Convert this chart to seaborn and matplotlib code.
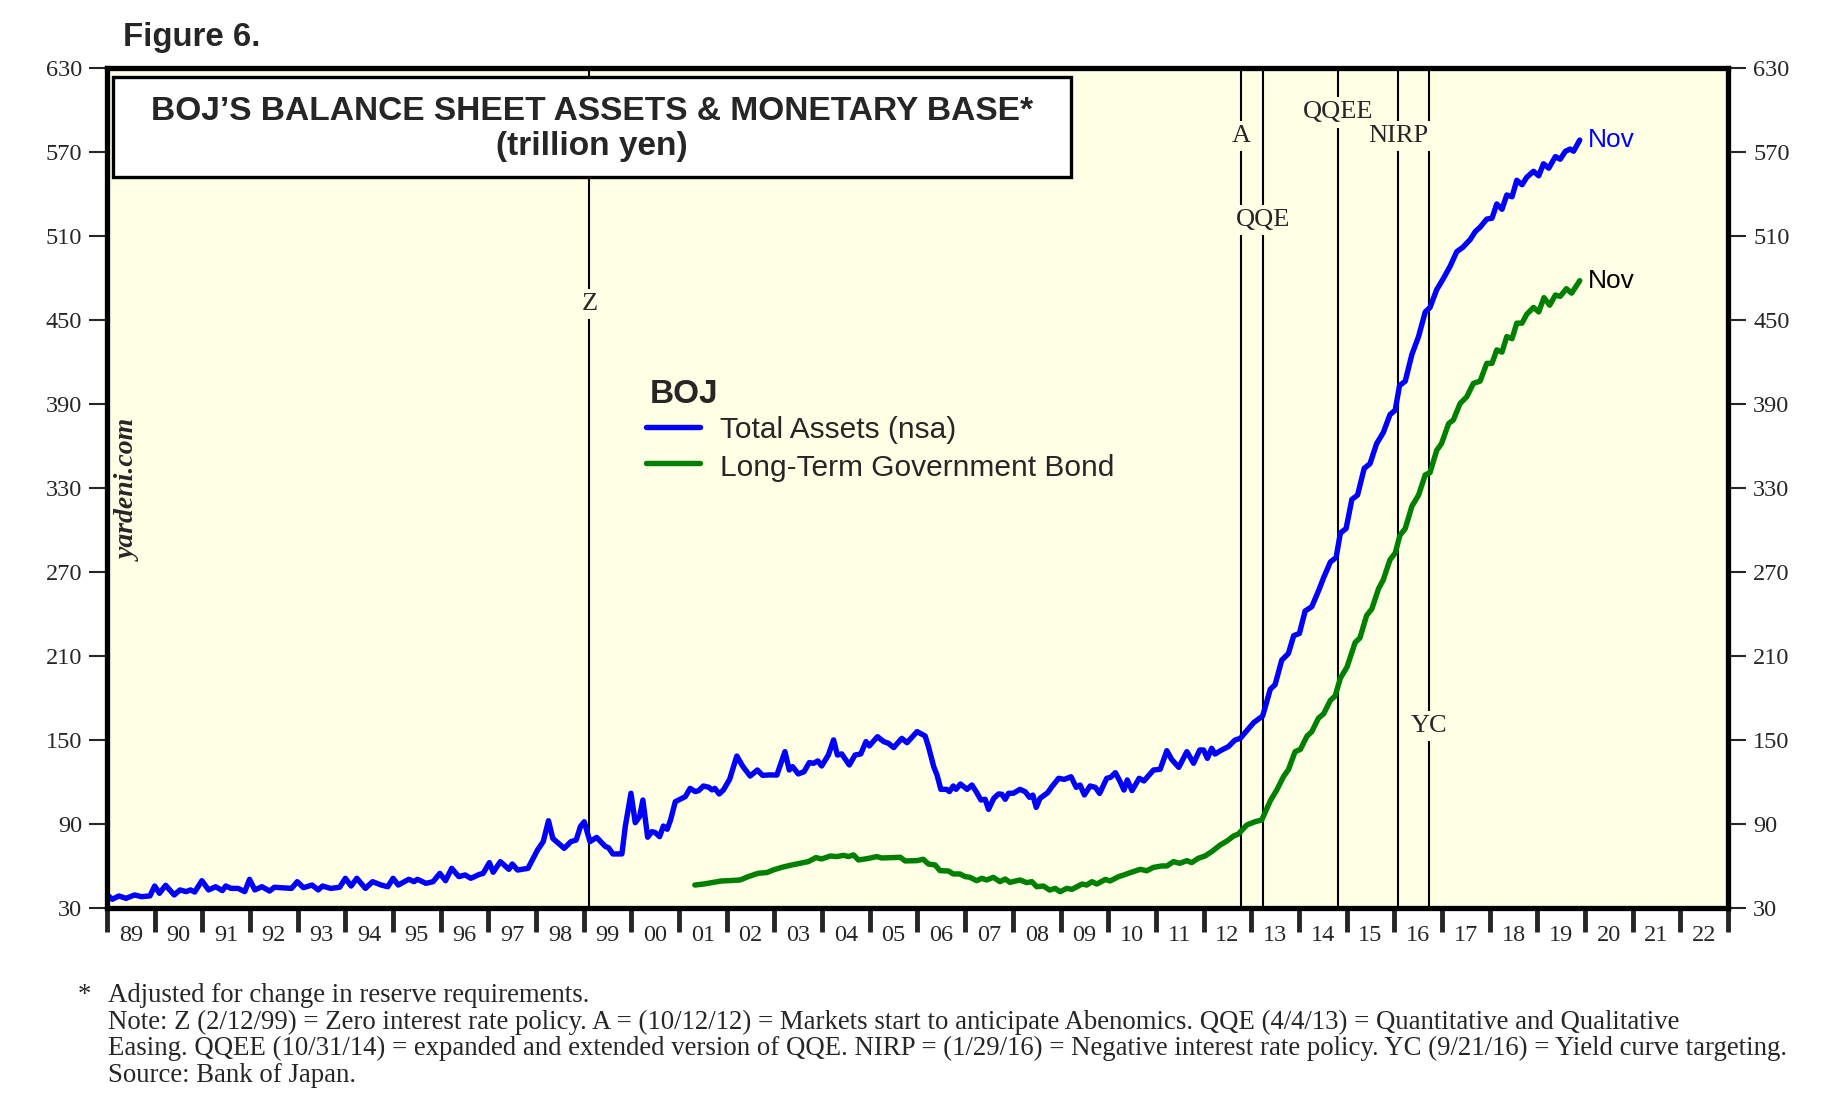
import matplotlib
matplotlib.use("Agg")
import matplotlib.pyplot as plt
import seaborn as sns
import pandas as pd
from matplotlib.patches import Rectangle
from matplotlib.lines import Line2D

# ---------------- data ----------------
ta_year = [1989.01, 1989.11, 1989.25, 1989.40, 1989.58, 1989.72, 1989.90, 1990.00, 1990.10, 1990.23,
           1990.41, 1990.53, 1990.66, 1990.75, 1990.84, 1990.99, 1991.13, 1991.28, 1991.42, 1991.49,
           1991.60, 1991.75, 1991.89, 1991.99, 1992.10, 1992.25, 1992.41, 1992.51, 1992.87, 1992.99,
           1993.12, 1993.30, 1993.43, 1993.52, 1993.69, 1993.88, 1994.00, 1994.12, 1994.24, 1994.42,
           1994.57, 1994.75, 1994.89, 1995.00, 1995.11, 1995.33, 1995.44, 1995.51, 1995.69, 1995.84,
           1995.98, 1996.10, 1996.23, 1996.38, 1996.51, 1996.63, 1996.81, 1996.89, 1997.02, 1997.10,
           1997.25, 1997.43, 1997.50, 1997.61, 1997.83, 1998.03, 1998.15, 1998.26, 1998.35, 1998.59,
           1998.73, 1998.84, 1998.93, 1999.01, 1999.13, 1999.27, 1999.45, 1999.52, 1999.61, 1999.80,
           1999.87, 1999.99, 2000.08, 2000.17, 2000.24, 2000.34, 2000.43, 2000.50, 2000.59, 2000.67,
           2000.75, 2000.82, 2000.92, 2001.06, 2001.13, 2001.23, 2001.34, 2001.41, 2001.51, 2001.62,
           2001.69, 2001.75, 2001.84, 2001.93, 2002.06, 2002.21, 2002.34, 2002.49, 2002.64, 2002.75,
           2002.90, 2003.05, 2003.22, 2003.31, 2003.38, 2003.50, 2003.62, 2003.73, 2003.82, 2003.91,
           2003.99, 2004.13, 2004.24, 2004.32, 2004.41, 2004.57, 2004.69, 2004.81, 2004.92, 2004.99,
           2005.16, 2005.29, 2005.39, 2005.50, 2005.67, 2005.78, 2005.99, 2006.16, 2006.23, 2006.34,
           2006.41, 2006.49, 2006.61, 2006.67, 2006.75, 2006.81, 2006.90, 2007.04, 2007.14, 2007.23,
           2007.33, 2007.42, 2007.49, 2007.60, 2007.70, 2007.77, 2007.84, 2007.91, 2008.01, 2008.15,
           2008.26, 2008.35, 2008.42, 2008.49, 2008.57, 2008.73, 2008.82, 2008.96, 2009.08, 2009.22,
           2009.33, 2009.41, 2009.50, 2009.62, 2009.73, 2009.82, 2009.97, 2010.05, 2010.15, 2010.25,
           2010.33, 2010.40, 2010.50, 2010.65, 2010.75, 2010.95, 2011.09, 2011.23, 2011.33, 2011.48,
           2011.65, 2011.79, 2011.92, 2012.00, 2012.08, 2012.17, 2012.24, 2012.38, 2012.52, 2012.66,
           2012.77, 2013.05, 2013.24, 2013.40, 2013.50, 2013.64, 2013.78, 2013.89, 2014.01, 2014.13,
           2014.27, 2014.41, 2014.52, 2014.66, 2014.78, 2014.87, 2014.99, 2015.11, 2015.23, 2015.37,
           2015.49, 2015.63, 2015.77, 2015.91, 2016.02, 2016.11, 2016.23, 2016.37, 2016.51, 2016.65,
           2016.75, 2016.89, 2017.03, 2017.17, 2017.31, 2017.44, 2017.59, 2017.70, 2017.80, 2017.94,
           2018.05, 2018.15, 2018.26, 2018.36, 2018.47, 2018.57, 2018.68, 2018.78, 2018.92, 2019.03,
           2019.13, 2019.24, 2019.38, 2019.48, 2019.59, 2019.69, 2019.76, 2019.89]
ta_val = [39.3, 36.2, 38.6, 36.9, 39.3, 38.1, 38.6, 45.7, 40.5, 46.2,
          39.3, 42.9, 41.7, 42.9, 41.4, 49.5, 42.9, 45.2, 42.4, 45.7,
          44.0, 44.0, 41.7, 50.5, 42.9, 45.2, 42.1, 44.8, 44.0, 48.8,
          44.5, 46.4, 42.9, 45.7, 44.0, 44.8, 51.2, 45.7, 51.2, 44.0,
          48.8, 46.4, 45.2, 51.2, 46.4, 50.5, 48.8, 50.5, 47.6, 48.8,
          54.7, 49.5, 58.3, 52.4, 53.6, 51.2, 54.0, 54.7, 62.4, 55.5,
          63.1, 57.6, 61.4, 57.1, 58.3, 71.4, 77.4, 92.3, 79.7, 72.6,
          77.4, 78.5, 88.1, 91.6, 77.4, 80.4, 74.0, 73.0, 68.6, 68.6,
          88.0, 111.9, 90.9, 95.2, 107.1, 80.5, 84.5, 83.8, 80.9, 88.5,
          86.2, 92.8, 105.9, 108.3, 109.5, 115.4, 113.1, 113.8, 117.1, 116.2,
          114.3, 115.4, 111.4, 114.3, 121.9, 138.5, 130.9, 124.2, 128.5, 124.7,
          125.0, 124.9, 141.6, 128.5, 130.9, 125.7, 127.3, 133.8, 133.3, 135.0,
          131.4, 139.2, 150.0, 139.2, 140.0, 132.1, 139.2, 140.0, 148.8, 145.7,
          152.3, 148.8, 147.6, 144.5, 151.1, 148.0, 155.9, 152.8, 145.2, 130.9,
          124.9, 114.7, 114.7, 113.1, 117.1, 114.7, 118.5, 114.7, 117.8, 113.1,
          107.1, 107.6, 100.4, 108.3, 111.4, 111.2, 107.6, 111.9, 111.9, 114.7,
          113.0, 109.0, 110.6, 101.8, 108.3, 112.3, 116.6, 122.6, 121.8, 123.7,
          116.1, 117.8, 110.7, 117.1, 116.1, 111.8, 122.6, 123.3, 126.6, 120.2,
          114.2, 121.4, 113.8, 122.6, 120.7, 128.5, 129.0, 142.3, 136.1, 130.4,
          141.6, 133.3, 142.8, 142.8, 136.8, 144.0, 139.9, 142.8, 145.2, 149.9,
          151.1, 162.3, 167.1, 186.2, 189.4, 206.9, 211.7, 224.4, 226.0, 242.0,
          245.1, 256.3, 265.9, 277.0, 280.2, 297.7, 300.9, 321.6, 324.8, 343.9,
          347.1, 361.5, 369.4, 382.2, 385.4, 402.9, 406.1, 425.2, 438.0, 455.5,
          458.7, 471.4, 479.4, 488.0, 498.5, 501.7, 507.1, 512.9, 516.0, 521.8,
          522.4, 532.6, 528.8, 539.0, 537.7, 549.5, 546.3, 551.7, 555.9, 552.7,
          561.3, 558.1, 566.4, 564.5, 570.2, 571.8, 570.2, 578.2]

jgb_year = [2001.33, 2001.51, 2001.72, 2001.89, 2002.03, 2002.28, 2002.45, 2002.66, 2002.84, 2002.98,
            2003.15, 2003.36, 2003.54, 2003.71, 2003.87, 2003.99, 2004.17, 2004.31, 2004.45, 2004.55,
            2004.66, 2004.76, 2004.94, 2005.15, 2005.25, 2005.46, 2005.64, 2005.74, 2005.99, 2006.12,
            2006.23, 2006.37, 2006.47, 2006.65, 2006.75, 2006.89, 2007.00, 2007.10, 2007.24, 2007.35,
            2007.45, 2007.59, 2007.73, 2007.84, 2007.94, 2008.15, 2008.29, 2008.40, 2008.50, 2008.64,
            2008.77, 2008.89, 2008.99, 2009.13, 2009.24, 2009.45, 2009.55, 2009.66, 2009.76, 2009.94,
            2010.04, 2010.22, 2010.32, 2010.46, 2010.67, 2010.81, 2010.95, 2011.12, 2011.23, 2011.37,
            2011.50, 2011.65, 2011.75, 2011.89, 2012.03, 2012.17, 2012.35, 2012.49, 2012.63, 2012.73,
            2012.91, 2013.08, 2013.22, 2013.40, 2013.54, 2013.68, 2013.78, 2013.92, 2014.03, 2014.17,
            2014.27, 2014.41, 2014.52, 2014.66, 2014.76, 2014.87, 2015.01, 2015.18, 2015.28, 2015.42,
            2015.53, 2015.67, 2015.77, 2015.91, 2016.02, 2016.12, 2016.23, 2016.37, 2016.51, 2016.65,
            2016.75, 2016.89, 2016.99, 2017.14, 2017.24, 2017.38, 2017.52, 2017.66, 2017.80, 2017.94,
            2018.05, 2018.15, 2018.26, 2018.36, 2018.47, 2018.57, 2018.68, 2018.78, 2018.92, 2019.03,
            2019.14, 2019.26, 2019.38, 2019.48, 2019.61, 2019.72, 2019.89]
jgb_val = [46.4, 47.1, 48.3, 49.3, 49.5, 50.0, 52.4, 54.8, 55.3, 57.2,
           59.0, 60.7, 61.9, 63.1, 66.0, 65.0, 67.1, 66.7, 67.6, 66.7,
           67.9, 64.3, 65.2, 66.7, 65.7, 66.0, 66.2, 63.6, 63.8, 64.8,
           61.4, 60.7, 56.7, 56.4, 54.3, 54.3, 52.4, 51.9, 49.5, 51.2,
           50.0, 51.9, 48.8, 50.7, 48.3, 50.0, 48.1, 48.8, 45.2, 45.7,
           42.8, 44.0, 41.6, 44.0, 43.3, 47.1, 46.4, 48.8, 47.1, 50.4,
           49.3, 52.4, 53.5, 55.2, 57.6, 56.6, 59.0, 60.0, 60.0, 63.1,
           61.9, 63.8, 62.4, 65.5, 67.1, 70.2, 75.0, 77.8, 81.4, 82.8,
           89.3, 91.6, 92.8, 106.5, 114.5, 124.0, 128.8, 141.6, 143.2, 152.7,
           155.9, 165.5, 168.7, 178.2, 181.4, 194.1, 202.1, 219.6, 222.8, 238.8,
           243.5, 257.9, 264.3, 278.6, 283.4, 296.1, 300.9, 316.8, 324.8, 339.2,
           340.8, 356.7, 361.5, 375.8, 378.4, 390.1, 394.9, 404.5, 406.1, 418.8,
           418.8, 428.4, 426.8, 437.9, 436.4, 447.5, 447.5, 453.9, 458.7, 455.5,
           465.7, 460.3, 467.6, 466.6, 472.1, 468.9, 477.8]

event_names = ["Z", "A", "QQE", "QQEE", "NIRP", "YC"]
event_dates = [1999.118, 2012.78, 2013.255, 2014.83, 2016.077, 2016.72]
event_label_y = [461, 581, 521, 598, 581, 160]

year_labels = ["89", "90", "91", "92", "93", "94", "95", "96", "97", "98", "99", "00",
               "01", "02", "03", "04", "05", "06", "07", "08", "09", "10", "11", "12",
               "13", "14", "15", "16", "17", "18", "19", "20", "21", "22"]
y_ticks = [30, 90, 150, 210, 270, 330, 390, 450, 510, 570, 630]

series_names = ["Total Assets (nsa)", "Long-Term Government Bond"]

# ---------------- style ----------------
BG = "#FFFFE5"
BLUE = "#0000FF"
GREEN = "#008000"
SERIF = "Liberation Serif"
SANS = "Liberation Sans"

sns.set_style("white")
plt.rcParams["font.family"] = [SERIF, "DejaVu Serif"]

W, H = 1834, 1097
fig = plt.figure(figsize=(W / 100, H / 100), dpi=100)
fig.patch.set_facecolor("white")


def fx(px):
    return px / W


def fy(py):
    return 1 - py / H


L, R, T, B = 107, 1728, 67.5, 908
ax = fig.add_axes([fx(L), fy(B), (R - L) / W, (B - T) / H])
ax.set_facecolor(BG)

df_ta = pd.DataFrame({"year": ta_year, "value": ta_val})
df_jgb = pd.DataFrame({"year": jgb_year, "value": jgb_val})
sns.lineplot(data=df_ta, x="year", y="value", ax=ax, color=BLUE, linewidth=3.9,
             estimator=None, legend=False, zorder=5)
sns.lineplot(data=df_jgb, x="year", y="value", ax=ax, color=GREEN, linewidth=3.9,
             estimator=None, legend=False, zorder=5)

ax.set_xlim(1989, 2023)
ax.set_ylim(30, 630)
ax.set_xlabel("")
ax.set_ylabel("")

# event lines
for name, d, ly in zip(event_names, event_dates, event_label_y):
    ax.axvline(d, color="black", linewidth=1.5, zorder=2)
    ax.text(d, ly, name, ha="center", va="center", fontsize=19, family=SERIF,
            zorder=3, bbox=dict(facecolor=BG, edgecolor="none", pad=3))

# Nov labels
ax.text(ta_year[-1] + 0.18, ta_val[-1], "Nov", color=BLUE, fontsize=19, family=SANS,
        ha="left", va="center")
ax.text(jgb_year[-1] + 0.18, jgb_val[-1], "Nov", color="black", fontsize=19, family=SANS,
        ha="left", va="center")

# axes / ticks
for s in ax.spines.values():
    s.set_linewidth(3.8)
    s.set_color("black")
    s.set_zorder(6)

ax.set_yticks(y_ticks)
ax.set_yticklabels([str(v) for v in y_ticks])
ax.tick_params(axis="y", which="major", left=True, right=True, labelleft=True, labelright=True,
               direction="out", length=13, width=1.5, pad=5, labelsize=17.5)

major_x = list(range(1989, 2024))
ax.set_xticks(major_x)
ax.set_xticklabels([""] * len(major_x))
ax.set_xticks([y + 0.5 for y in range(1989, 2023)], minor=True)
ax.set_xticklabels(year_labels, minor=True)
ax.tick_params(axis="x", which="major", bottom=True, direction="out", length=17, width=3.5)
ax.tick_params(axis="x", which="minor", bottom=True, length=0, pad=12, labelsize=17.5)
for lab in ax.get_yticklabels() + ax.get_xticklabels(minor=True):
    lab.set_family(SERIF)
ax.grid(False)

# title box
rect = Rectangle((fx(113), fy(177)), (1071 - 113) / W, 100 / H, transform=fig.transFigure,
                 facecolor="white", edgecolor="black", linewidth=2.4, zorder=10)
fig.add_artist(rect)
fig.text(fx(592), fy(120), "BOJ\u2019S BALANCE SHEET ASSETS & MONETARY BASE*", ha="center",
         va="baseline", fontsize=24.1, weight="bold", family=SANS, zorder=11)
fig.text(fx(592), fy(155), "(trillion yen)", ha="center", va="baseline", fontsize=24.1,
         weight="bold", family=SANS, zorder=11)

fig.text(fx(123), fy(46), "Figure 6.", ha="left", va="baseline", fontsize=23.8,
         weight="bold", family=SANS)

# legend
fig.text(fx(650), fy(403), "BOJ", ha="left", va="baseline", fontsize=24, weight="bold",
         family=SANS, zorder=11)
for i, (name, col) in enumerate(zip(series_names, [BLUE, GREEN])):
    yy = 426.5 + 37 * i
    fig.add_artist(Line2D([fx(646), fx(700)], [fy(yy), fy(yy)], color=col, linewidth=3.9,
                          solid_capstyle="round", zorder=11))
    fig.text(fx(719.5), fy(yy + 12), name, ha="left", va="baseline", fontsize=21.5,
             family=SANS, zorder=11)

# watermark
fig.text(fx(129), fy(490), "yardeni.com", rotation=90, ha="center", va="center",
         fontsize=20, weight="bold", style="italic", family=SERIF)

# footnotes
FN = 19.3
fig.text(fx(78), fy(1002), "*", ha="left", va="baseline", fontsize=FN, family=SERIF)
notes = [
    "Adjusted for change in reserve requirements.",
    "Note: Z (2/12/99) = Zero interest rate policy. A = (10/12/12) = Markets start to anticipate "
    "Abenomics. QQE (4/4/13) = Quantitative and Qualitative",
    "Easing. QQEE (10/31/14) = expanded and extended version of QQE. NIRP = (1/29/16) = Negative "
    "interest rate policy. YC (9/21/16) = Yield curve targeting.",
    "Source: Bank of Japan.",
]
for i, t in enumerate(notes):
    fig.text(fx(108), fy(1002 + 26.7 * i), t, ha="left", va="baseline", fontsize=FN,
             family=SERIF)

fig.savefig("out.png", dpi=100, facecolor="white")
